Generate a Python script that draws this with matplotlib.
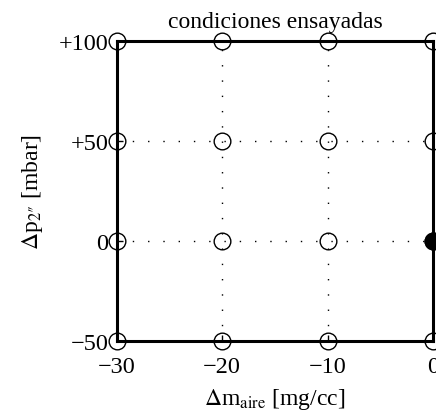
import matplotlib
matplotlib.use("Agg")
import matplotlib.pyplot as plt
import numpy as np

# test grid (open circles) and the reference condition (filled)
dm_aire = [-30, -20, -10, 0]
dp_2 = [-50, 0, 50, 100]
ref_dm = [0]
ref_dp = [0]

x_ticks = [-30, -20, -10, 0]
x_labels = ["\u221230", "\u221220", "\u221210", "0"]
y_ticks = [-50, 0, 50, 100]
y_labels = ["\u221250", "0", "+50", "+100"]

plt.rcParams["font.family"] = ["Liberation Serif", "DejaVu Serif"]
plt.rcParams["mathtext.fontset"] = "stix"

fig = plt.figure(figsize=(4.36, 4.14), dpi=100)
ax = fig.add_axes([0.268, 0.174, 0.725, 0.725])

gx, gy = np.meshgrid(dm_aire, dp_2)
ax.plot(gx.ravel(), gy.ravel(), "o", ms=12, mfc="none", mec="black",
        mew=1.0, clip_on=False, zorder=3)
ax.plot(ref_dm, ref_dp, "o", ms=12, mfc="black", mec="black",
        clip_on=False, zorder=4)

ax.set_xlim(-30, 0)
ax.set_ylim(-50, 100)
ax.set_xticks(x_ticks)
ax.set_xticklabels(x_labels)
ax.set_yticks(y_ticks)
ax.set_yticklabels(y_labels)
ax.tick_params(direction="in", length=4, labelsize=17.5, width=1)
ax.tick_params(axis="x", pad=11)
ax.tick_params(axis="y", pad=6)
ax.grid(True, color="black", linestyle=(0, (1, 10)), linewidth=1.0)

for sp in ax.spines.values():
    sp.set_linewidth(2.2)

ax.set_title("condiciones ensayadas", fontsize=17, pad=10)
ax.set_xlabel(r"$\Delta$m$_{\rm aire}$ [mg/cc]", fontsize=17, labelpad=6)
ax.set_ylabel("$\\Delta$p$_{\\rm 2\u2033}$ [mbar]", fontsize=17, labelpad=10)

fig.savefig("out.png", dpi=100)
